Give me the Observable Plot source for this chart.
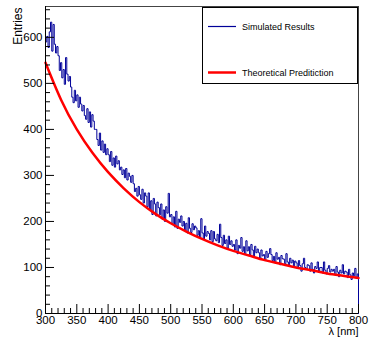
<!DOCTYPE html>
<html><head><meta charset="utf-8">
<script src="https://cdn.jsdelivr.net/npm/d3@7"></script>
<script src="https://cdn.jsdelivr.net/npm/@observablehq/plot@0.6"></script>
<style>
html,body{margin:0;padding:0;background:#fff;}
#wrap{position:relative;width:369px;height:339px;font-family:"Liberation Sans",Arial,sans-serif;}
#legend{position:absolute;left:202px;top:7px;width:156px;height:77px;border:1px solid #000;background:#fff;box-sizing:border-box;}
#legend svg{position:absolute;left:0;top:0;}
</style></head><body><div id="wrap"><div id="legend"></div></div>
<script>
// ---- data ----
const binStart = 300, binWidth = 2;
const simulatedCounts = [
  590, 602, 578, 612, 633, 570, 628, 585, 566, 580,
  560, 528, 545, 512, 530, 498, 556, 520, 505, 515,
  492, 470, 458, 485, 462, 475, 448, 470, 455, 440,
  452, 430, 422, 445, 415, 438, 405, 432, 418, 400,
  400, 378, 365, 392, 355, 375, 350, 368, 345, 358,
  345, 330, 352, 322, 338, 318, 342, 325, 332, 312,
  318, 302, 312, 295, 315, 290, 305, 298, 285, 300,
  282, 265, 272, 255, 276, 258, 248, 270, 240, 262,
  255, 232, 262, 225, 245, 215, 250, 238, 212, 242,
  230, 215, 238, 205, 225, 200, 232, 218, 261, 210,
  215, 195, 210, 188, 222, 185, 205, 198, 212, 190,
  200, 180, 196, 175, 208, 185, 176, 195, 182, 190,
  186, 170, 180, 165, 206, 175, 162, 190, 168, 178,
  174, 160, 180, 156, 178, 162, 158, 172, 154, 194,
  165, 148, 170, 152, 160, 142, 168, 150, 158, 146,
  150, 138, 160, 130, 148, 142, 165, 135, 145, 128,
  158, 136, 145, 128, 150, 138, 125, 146, 132, 140,
  132, 120, 138, 125, 128, 115, 135, 122, 130, 141,
  128, 115, 124, 110, 132, 118, 122, 106, 126, 119,
  118, 108, 130, 112, 104, 120, 110, 116, 102, 114,
  110, 98, 115, 104, 92, 108, 120, 100, 96, 106,
  104, 92, 110, 96, 88, 102, 98, 112, 90, 100,
  100, 88, 112, 94, 86, 98, 104, 90, 96, 92,
  96, 84, 102, 90, 80, 94, 88, 106, 86, 92,
  90, 78, 96, 84, 74, 88, 82, 98, 76, 86
];
const theoryLambda = [300, 325, 350, 375, 400, 425, 450, 475, 500, 525, 550, 575, 600, 625, 650, 675, 700, 725, 750, 775, 800];
const theoryValues = [545, 464, 400, 349, 307, 272, 242, 217, 196, 178, 162, 148, 136, 126, 116, 108, 100, 94, 87, 82, 77];
const xMajorTicks = [300, 350, 400, 450, 500, 550, 600, 650, 700, 750, 800];
const yMajorTicks = [0, 100, 200, 300, 400, 500, 600];
const legendLabels = ["Simulated Results", "Theoretical Preditiction"];
const seriesColors = ["#000099", "#ff0000"];

// ---- derived tables ----
const xMinorTicks = d3.range(300, 801, 10).filter(v => v % 50 !== 0);
const yMinorTicks = d3.range(0, 661, 20).filter(v => v % 100 !== 0);
const histPoints = [{x: binStart, y: 0}];
simulatedCounts.forEach((c, i) => histPoints.push({x: binStart + i * binWidth, y: c}));
const xEnd = binStart + simulatedCounts.length * binWidth;
histPoints.push({x: xEnd, y: simulatedCounts[simulatedCounts.length - 1]});
histPoints.push({x: xEnd, y: 0});
const theory = theoryLambda.map((l, i) => ({x: l, y: theoryValues[i]}));

const font = "Liberation Sans, Arial, sans-serif";
const chart = Plot.plot({
  width: 369, height: 339,
  marginLeft: 45, marginRight: 11, marginTop: 6, marginBottom: 26,
  style: {fontFamily: font, fontSize: "11.5px", background: "#fff", color: "#000", overflow: "visible"},
  x: {domain: [300, 800], label: null},
  y: {domain: [0, 667], label: null},
  marks: [
    Plot.frame({stroke: "#444"}),
    Plot.line(histPoints, {x: "x", y: "y", curve: "step-after", stroke: seriesColors[0], strokeWidth: 1}),
    Plot.line(theory, {x: "x", y: "y", curve: "natural", stroke: seriesColors[1], strokeWidth: 2.5}),
    Plot.ruleX([300], {stroke: "#000"}),
    Plot.ruleY([0], {stroke: "#000"}),
    Plot.axisX({ticks: xMajorTicks, tickSize: -9, tickFormat: () => "", label: null}),
    Plot.axisX({ticks: xMinorTicks, tickSize: -5, tickFormat: () => "", label: null}),
    Plot.axisY({ticks: yMajorTicks, tickSize: -9, tickFormat: () => "", label: null}),
    Plot.axisY({ticks: yMinorTicks, tickSize: -5, tickFormat: () => "", label: null}),
    Plot.axisX({ticks: xMajorTicks, tickSize: 0, tickPadding: 2, label: null, fontSize: 11.5}),
    Plot.axisY({ticks: yMajorTicks, tickSize: 0, tickPadding: 3, label: null, fontSize: 11.5}),
    Plot.text(["Entries"], {frameAnchor: "top-left", rotate: -90, textAnchor: "end", dx: -32, dy: 1, fontSize: 12}),
    Plot.text(["λ [nm]"], {frameAnchor: "bottom-right", textAnchor: "end", dy: 21, fontSize: 11})
  ]
});
document.getElementById("wrap").prepend(chart);

// legend (overlay)
const lg = d3.select("#legend").append("svg").attr("width", 156).attr("height", 77)
  .style("font-family", font).style("font-size", "9px");
const rowsY = [18.5, 64.5];
legendLabels.forEach((t, i) => {
  lg.append("line").attr("x1", 5).attr("x2", 33).attr("y1", rowsY[i]).attr("y2", rowsY[i])
    .attr("stroke", seriesColors[i]).attr("stroke-width", i === 0 ? 1.2 : 2.5);
  lg.append("text").attr("x", 39).attr("y", rowsY[i]).attr("dy", "0.35em").text(t);
});
</script>
</body></html>
